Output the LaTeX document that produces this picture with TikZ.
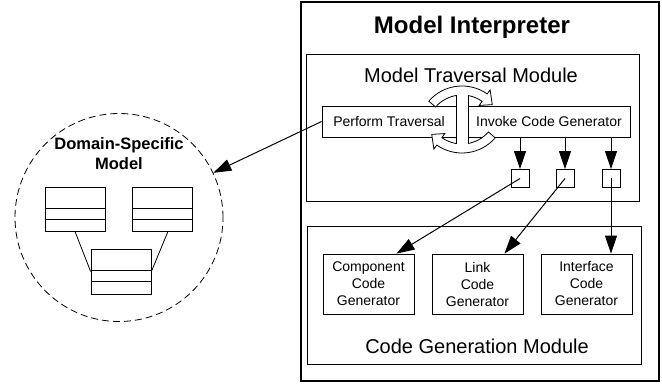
\documentclass[tikz,border=0pt]{standalone}
\usepackage{fontspec}
\setmainfont{Liberation Sans}
\usetikzlibrary{arrows.meta,calc}
\tikzset{
  modbox/.style = {draw, line width = 0.8pt, inner sep = 0pt},
  taskbox/.style = {draw, line width = 0.8pt, minimum height = 31pt, inner sep = 0pt, font = \fontsize{14}{17}\selectfont},
  genbox/.style = {draw, line width = 0.8pt, minimum width = 91pt, minimum height = 60pt, inner sep = 0pt, align = center, font = \fontsize{14}{17}\selectfont},
  portbox/.style = {draw, line width = 0.8pt, minimum size = 18pt, inner sep = 0pt},
  classbox/.style = {draw, line width = 0.8pt, minimum width = 60pt, minimum height = 44pt, inner sep = 0pt},
  arr/.style = {-{Triangle[length = 18pt, width = 12pt]}, line width = 1pt},
  swaparrow/.style = {draw, fill = white, line width = 0.8pt}
}
\begin{document}
\begin{tikzpicture}[x = 1pt, y = -1pt]
\useasboundingbox (0,0) rectangle (662,385);
% interpreter
\node[draw, line width = 2pt, minimum width = 358pt, minimum height = 379pt] (interp) at (480,191.5) {};
\node[anchor = base, font = \fontsize{24}{28}\selectfont\bfseries] (title) at (472,34) {Model Interpreter};
\node[modbox, minimum width = 333pt, minimum height = 147pt] (trav) at (472.5,127.5) {};
\node[anchor = base, font = \fontsize{20}{24}\selectfont] (travlabel) at (471,83) {Model Traversal Module};
\node[modbox, minimum width = 334pt, minimum height = 138pt] (cgen) at (474,295) {};
\node[anchor = base, font = \fontsize{20}{24}\selectfont] (cgenlabel) at (477,353) {Code Generation Module};
\node[taskbox, minimum width = 134pt] (perf) at (389,121.5) {Perform Traversal};
\node[taskbox, minimum width = 162pt] (invoke) at (549,121.5) {Invoke Code Generator};
% swap arrows
\coordinate (swapa) at (462,130);
\coordinate (swapb) at (462,109);
\path[swaparrow] ($(swapa)+(-139:44)$) arc[start angle = -139, end angle = -55, radius = 44] -- ($(swapa)+(-55:49)$) -- ($(swapa)+(-40:39.5)$) -- ($(swapa)+(-55:30)$) -- ($(swapa)+(-55:35)$) arc[start angle = -55, end angle = -139, radius = 35] -- cycle;
\path[swaparrow] ($(swapb)+(41:44)$) arc[start angle = 41, end angle = 125, radius = 44] -- ($(swapb)+(125:49)$) -- ($(swapb)+(140:39.5)$) -- ($(swapb)+(125:30)$) -- ($(swapb)+(125:35)$) arc[start angle = 125, end angle = 41, radius = 35] -- cycle;
\fill[white] (456.5,94) rectangle (467.5,145);
\draw[line width = 0.8pt] (456,95.5) -- (456,143.5) (468,95.5) -- (468,143.5);
% generators
\node[genbox] (comp) at (368.5,284) {Component\\Code\\Generator};
\node[genbox] (link) at (477.5,284) {Link\\Code\\Generator};
\node[genbox] (iface) at (586.5,284) {Interface\\Code\\Generator};
\foreach \n/\x in {1/520,2/565,3/611} {
  \node[portbox] (sq\n) at (\x,178.5) {};
  \draw[arr] (invoke.south -| sq\n) -- (sq\n.north);
}
\draw[arr] (sq1.center) -- ([xshift = 28pt]comp.north);
\draw[arr] (sq2.center) -- ([xshift = 27pt]link.north);
\draw[arr] (sq3.center) -- (sq3.center |- iface.north);
% domain-specific model
\node[draw, circle, dash pattern = on 7pt off 4pt, line width = 0.8pt, minimum size = 208pt, inner sep = 0pt] (dsm) at (119,217.5) {};
\node[align = center, font = \fontsize{16.5}{20}\selectfont\bfseries] (dsmlabel) at (119,154) {Domain-Specific\\Model};
\node[classbox] (cls1) at (75,209) {};
\node[classbox] (cls2) at (162,209) {};
\node[classbox, minimum height = 45pt] (cls3) at (121,271.5) {};
\foreach \c in {cls1,cls2,cls3} {
  \draw[line width = 0.8pt] ($(\c.north west)+(0,22)$) -- ($(\c.north east)+(0,22)$);
  \draw[line width = 0.8pt] ($(\c.north west)+(0,33)$) -- ($(\c.north east)+(0,33)$);
}
\draw[line width = 0.8pt] (cls1.south) -- (cls3.west);
\draw[line width = 0.8pt] ([xshift = 6pt]cls2.south) -- (cls3.east);
\draw[arr] (perf.west) -- (dsm);
\end{tikzpicture}
\end{document}
